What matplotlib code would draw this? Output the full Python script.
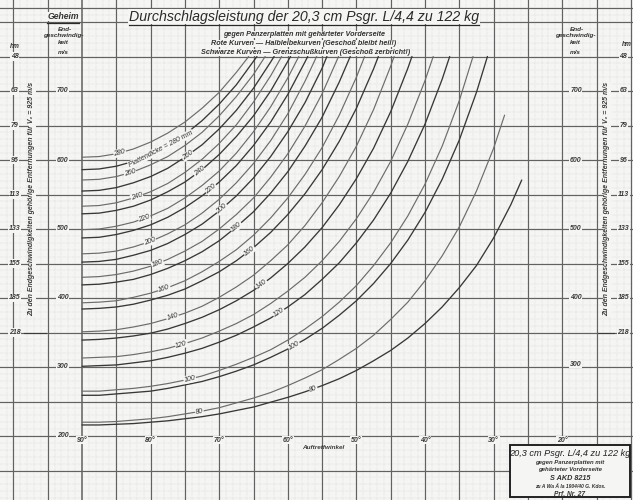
import numpy as np
import matplotlib
matplotlib.use("Agg")
import matplotlib.pyplot as plt
from matplotlib.patches import Rectangle
from matplotlib.lines import Line2D

W, H = 633, 500

# ---------------- data ----------------
THICKNESS = [280, 260, 240, 220, 200, 180, 160, 140, 120, 100, 80]
ANGLE_GRID = [90, 87.5, 85, 82.5, 80, 77.5, 75, 72.5, 70, 67.5, 65, 62.5, 60,
              57.5, 55, 52.5, 50, 47.5, 45, 42.5, 40, 37.5, 35, 32.5, 30, 27.5]

# red curves (Halbleibekurven): end velocity m/s at ANGLE_GRID
RED_280 = [604, 605, 609, 616, 626, 639, 655, 675, 698, 727]
RED_260 = [571, 572, 576, 583, 593, 605, 621, 640, 664, 692, 724]
RED_240 = [533, 534, 538, 545, 554, 566, 582, 601, 624, 651, 684, 722]
RED_220 = [499, 500, 504, 510, 519, 530, 545, 563, 584, 610, 641, 677, 719]
RED_200 = [464, 465, 468, 474, 482, 493, 506, 523, 543, 567, 595, 628, 667, 714]
RED_180 = [430, 431, 434, 439, 446, 456, 468, 482, 500, 521, 545, 575, 609, 649, 696]
RED_160 = [393, 394, 396, 401, 407, 415, 425, 438, 453, 470, 491, 516, 545, 579,
           618, 665, 720]
RED_140 = [351, 352, 354, 358, 363, 370, 378, 388, 401, 416, 433, 454, 477, 505,
           538, 576, 620, 673, 736]
RED_120 = [313, 314, 315, 318, 322, 327, 334, 342, 352, 363, 376, 392, 410, 430,
           454, 482, 515, 553, 598, 652, 715]
RED_100 = [265, 265, 267, 269, 272, 276, 281, 287, 295, 304, 314, 325, 339, 355,
           373, 394, 418, 447, 480, 519, 565, 620, 686]
RED_80 = [220, 220, 221, 223, 225, 228, 232, 236, 241, 248, 255, 263, 273, 284,
          296, 311, 327, 346, 369, 394, 425, 461, 503, 555, 617]
RED_END_ANGLE = [65.7, 63.3, 60.9, 58.4, 55.8, 52.6, 48.8, 44.5, 38.8, 33.0, 28.4]
RED_END_V = [750, 750, 750, 750, 750, 750, 750, 750, 750, 750, 665]

# black curves (Grenzschusskurven)
BLACK_280 = [586, 587, 591, 598, 608, 621, 637, 657, 681, 709]
BLACK_260 = [555, 556, 560, 567, 576, 588, 604, 622, 645, 672, 704, 742]
BLACK_240 = [522, 523, 527, 533, 542, 554, 568, 586, 608, 634, 664, 700, 743]
BLACK_220 = [487, 488, 492, 498, 506, 517, 531, 548, 568, 592, 621, 655, 695, 742]
BLACK_200 = [452, 453, 456, 462, 469, 479, 492, 507, 526, 548, 574, 605, 641, 683, 733]
BLACK_180 = [419, 420, 423, 427, 434, 443, 454, 467, 483, 503, 525, 552, 583, 620,
             662, 713]
BLACK_160 = [384, 385, 387, 391, 397, 404, 413, 425, 438, 454, 473, 495, 521, 551,
             586, 627, 675, 732]
BLACK_140 = [339, 340, 342, 345, 349, 355, 363, 372, 383, 396, 411, 429, 450, 474,
             502, 535, 573, 617, 670, 733]
BLACK_120 = [301, 302, 303, 306, 309, 314, 320, 327, 336, 346, 358, 371, 387, 405,
             427, 451, 480, 513, 552, 598, 652, 717]
BLACK_100 = [259, 259, 261, 263, 265, 269, 274, 279, 286, 294, 303, 314, 326, 340,
             356, 375, 396, 421, 450, 484, 524, 572, 629, 698]
BLACK_80 = [216, 216, 217, 218, 220, 222, 225, 228, 232, 237, 242, 249, 256, 264,
            273, 283, 295, 309, 324, 342, 363, 387, 415, 447, 487, 535]
BLACK_END_ANGLE = [64.5, 62.0, 59.6, 57.1, 54.3, 50.9, 46.8, 41.9, 36.4, 30.9, 25.9]
BLACK_END_V = [750, 750, 750, 750, 750, 750, 750, 750, 750, 750, 571]

VEL_TICKS = [700, 600, 500, 400, 300, 200]
RIGHT_VEL_TICKS = [700, 600, 500, 400, 300]
HM_LABELS = ["48", "63", "79", "96", "113", "133", "155", "185", "218"]
HM_VELS = [750, 700, 650, 600, 550, 500, 450, 400, 350]
ANGLE_TICKS = [90, 80, 70, 60, 50, 40, 30, 20]

# ---------------- layout ----------------
RED_ROWS = [RED_280, RED_260, RED_240, RED_220, RED_200, RED_180,
            RED_160, RED_140, RED_120, RED_100, RED_80]
BLACK_ROWS = [BLACK_280, BLACK_260, BLACK_240, BLACK_220, BLACK_200, BLACK_180,
              BLACK_160, BLACK_140, BLACK_120, BLACK_100, BLACK_80]
LEFT_LABEL_AT = [84.5, 83.0, 82.0, 80.9, 80.1, 79.0, 78.0, 76.8, 75.5, 74.3, 72.9]
RIGHT_LABEL_AT = [78.5, 74.6, 72.9, 71.2, 69.6, 67.5, 65.6, 63.8, 61.3, 59.1, 56.3]

BG = "#f5f5f3"
GRID = "#626262"
FONT = ["Liberation Sans", "DejaVu Sans"]

fig = plt.figure(figsize=(W / 100, H / 100), dpi=100)
fig.patch.set_facecolor(BG)
ax = fig.add_axes([0, 0, 1, 1])
ax.set_facecolor(BG)
ax.set_xlim(90 + 82 / 6.86, 90 - 551 / 6.86)
ax.set_ylim(700 - 409 / 0.69, 700 + 91 / 0.69)
ax.axis("off")

# fine dotted grid
for a in np.arange(10, 102, 1):
    ax.axvline(a, color="#c8c8c8", lw=0.35, ls=(0, (1, 1.6)), zorder=1)
for v in np.arange(110, 830, 10):
    ax.axhline(v, color="#c8c8c8", lw=0.35, ls=(0, (1, 1.6)), zorder=1)
# major grid
for a in np.arange(10, 101, 5):
    ax.axvline(a, color=GRID, lw=0.85 if a != 90 else 1.1, zorder=2)
for v in np.arange(150, 801, 50):
    ax.axhline(v, color=GRID, lw=0.85, zorder=2)
ax.axhline(820, color=GRID, lw=0.85, zorder=2)

def px2fig(x, y):
    return x / W, 1 - y / H

def curve(row, end_a, end_v):
    a = list(ANGLE_GRID[:len(row)]) + [end_a]
    v = list(row) + [end_v]
    return np.array(a, float), np.array(v, float)

def inline_label(a_arr, v_arr, at, txt, size=5.0):
    ai, vi = a_arr[::-1], v_arr[::-1]
    v = np.interp(at, ai, vi)
    p1 = ax.transData.transform((at + 0.7, np.interp(at + 0.7, ai, vi)))
    p2 = ax.transData.transform((at - 0.7, np.interp(at - 0.7, ai, vi)))
    rot = np.degrees(np.arctan2(p2[1] - p1[1], p2[0] - p1[0]))
    ax.text(at, v, txt, rotation=rot, rotation_mode="anchor", ha="center",
            va="center", fontsize=size, family=FONT, style="italic",
            color="#2e2e2e", zorder=5,
            bbox=dict(boxstyle="square,pad=0.08", fc=BG, ec="none"))

for i, t in enumerate(THICKNESS):
    ra, rv = curve(RED_ROWS[i], RED_END_ANGLE[i], RED_END_V[i])
    ba, bv = curve(BLACK_ROWS[i], BLACK_END_ANGLE[i], BLACK_END_V[i])
    ax.plot(ra, rv, color="#6c6c6c", lw=0.85, zorder=3, solid_capstyle="round",
            solid_joinstyle="round")
    ax.plot(ba, bv, color="#383838", lw=0.95, zorder=3, solid_capstyle="round",
            solid_joinstyle="round")
    inline_label(ra, rv, LEFT_LABEL_AT[i], str(t))
    if t == 280:
        inline_label(ba, bv, RIGHT_LABEL_AT[i], "Plattendicke = 280 mm", size=5.0)
    else:
        inline_label(ba, bv, RIGHT_LABEL_AT[i], str(t))

tick_kw = dict(fontsize=5, family=FONT, style="italic", fontweight="bold",
               color="#3a3a3a", ha="center", va="center", zorder=6,
               bbox=dict(boxstyle="square,pad=0.1", fc=BG, ec="none"))

for v in VEL_TICKS:
    ax.text(92.8, v, str(v), **tick_kw)
for v in RIGHT_VEL_TICKS:
    ax.text(18.0, v if v != 300 else 304, str(v), **tick_kw)
for lab, v in zip(HM_LABELS, HM_VELS):
    ax.text(99.8, v, lab, **tick_kw)
    ax.text(11.1, v, lab, **tick_kw)
ax.plot([98.4, 95.3], [350, 350], color="#3a3a3a", lw=0.8, zorder=6)
ax.plot([14.8, 12.4], [350, 350], color="#3a3a3a", lw=0.8, zorder=6)

for a in ANGLE_TICKS:
    ax.text(a, 194, f"{a}°", **tick_kw)
ax.text(54.9, 183, "Auftreffwinkel", fontsize=4.6, family=FONT, style="italic",
        fontweight="bold", color="#3a3a3a", ha="center", va="center", zorder=6)

side = "Zu den Endgeschwindigkeiten gehörige Entfernungen für V\u2080 = 925 m/s"
for a in (97.3, 13.5):
    ax.text(a, 543, side, rotation=90, fontsize=5.0, family=FONT, style="italic",
            fontweight="bold", color="#3a3a3a", ha="center", va="center", zorder=6,
            bbox=dict(boxstyle="square,pad=0.1", fc=BG, ec="none"))

# header texts (figure pixel positions)
def ftext(x, y, s, size, **kw):
    fx, fy = px2fig(x, y)
    d = dict(fontsize=size, family=FONT, style="italic", color="#333333",
             ha="center", va="center", zorder=7)
    d.update(kw)
    return fig.text(fx, fy, s, **d)

hdr_bbox = dict(boxstyle="square,pad=0.05", fc=BG, ec="none")
title = ftext(304, 16.5, "Durchschlagsleistung der 20,3 cm Psgr. L/4,4 zu 122 kg", 10.2,
              color="#2a2a2a", bbox=hdr_bbox)
gh = ftext(63, 16.5, "Geheim", 6.2, fontweight="bold", bbox=hdr_bbox)
fig.canvas.draw()
r = fig.canvas.get_renderer()
for t in (title, gh):
    bb = t.get_window_extent(renderer=r)
    y0 = bb.y0 / H - 0.003
    fig.add_artist(Line2D([bb.x0 / W, bb.x1 / W], [y0, y0], color="#2a2a2a", lw=0.9,
                          transform=fig.transFigure, zorder=8))

ftext(304, 34.5, "gegen Panzerplatten mit gehärteter Vorderseite", 5.2,
      fontweight="bold", bbox=hdr_bbox)
ftext(304, 43.5, "Rote Kurven \u2014 Halbleibekurven (Geschoß bleibt heil!)", 5.2,
      fontweight="bold", bbox=hdr_bbox)
ftext(306, 52.5, "Schwarze Kurven \u2014 Grenzschußkurven (Geschoß zerbricht!)", 5.2,
      fontweight="bold", bbox=hdr_bbox)

for x0 in (63, 575):
    ftext(x0 + 2, 29.5, "End-", 4.6, fontweight="bold")
    ftext(x0, 36, "geschwindig-", 4.6, fontweight="bold")
    ftext(x0, 42.5, "keit", 4.6, fontweight="bold")
    ftext(x0, 52.5, "m/s", 4.6, fontweight="bold")
ftext(15, 46.5, "hm", 4.8, fontweight="bold")
ftext(627, 45, "hm", 4.8, fontweight="bold")

# stamp box bottom right
bx0, by0 = px2fig(510, 497)
fig.add_artist(Rectangle((bx0, by0), 120 / W, 52 / H, transform=fig.transFigure,
                         fc=BG, ec="#222222", lw=1.4, zorder=9))
ftext(570, 453, "20,3 cm Psgr. L/4,4 zu 122 kg", 6.6, zorder=10, color="#222222")
ftext(570, 462.5, "gegen Panzerplatten mit", 4.3, zorder=10, fontweight="bold")
ftext(570, 469.5, "gehärteter Vorderseite", 4.3, zorder=10, fontweight="bold")
ftext(570, 478, "S AKD 8215", 5.2, zorder=10, fontweight="bold")
ftext(570, 486, "zu A Wa Ä Ia 1904/40 G. Kdos.", 3.6, zorder=10, fontweight="bold")
ftext(570, 494, "Prf. Nr. 27", 4.8, zorder=10, fontweight="bold")

fig.savefig("out.png", dpi=100, facecolor=BG)
